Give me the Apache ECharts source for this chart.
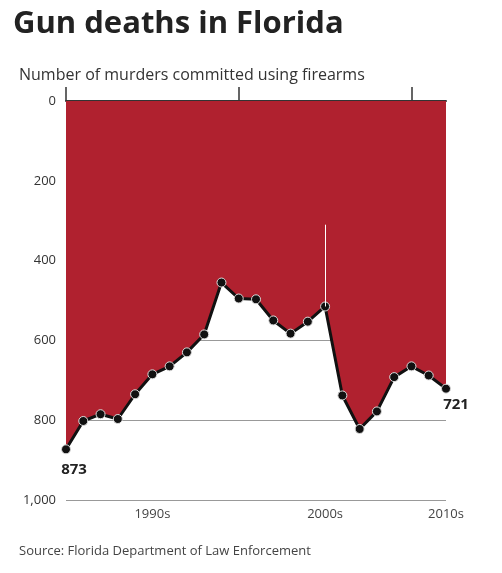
<!DOCTYPE html><html><head><meta charset="utf-8">
<script src="https://cdn.jsdelivr.net/npm/echarts@6/dist/echarts.min.js"></script>
<style>html,body{margin:0;padding:0;background:#fff}#c{width:502px;height:573px}</style></head><body><div id="c"></div>
<script>
const years=['1990','1991','1992','1993','1994','1995','1996','1997','1998','1999','2000','2001','2002','2003','2004','2005','2006','2007','2008','2009','2010','2011','2012'];
const murders=[873,802,785,797,735,685,665,630,585,455,495,497,550,583,553,515,738,822,778,692,665,688,721];
const yTicks=[0,200,400,600,800,1000];
const decadeLabels={'1995':'1990s','2005':'2000s','2012':'2010s'};
const decadeTicks=['1990','2000','2010'];
const chart=echarts.init(document.getElementById('c'));
const F='"Source Sans Pro","Open Sans","Noto Sans",sans-serif';
chart.setOption({
  animation:false,
  title:[{text:'Gun deaths in Florida',left:8,top:4,textStyle:{fontFamily:F,fontSize:31,fontWeight:'bold',color:'#222'}},
   {text:'Number of murders committed using firearms',left:14,top:62,textStyle:{fontFamily:F,fontSize:16,fontWeight:'normal',color:'#333'}},
   {text:'Source: Florida Department of Law Enforcement',left:14,top:540,textStyle:{fontFamily:F,fontSize:13,fontWeight:'normal',color:'#444'}}],
  grid:{left:66,right:56,top:101,bottom:73},
  xAxis:{type:'category',data:years,boundaryGap:false,
    axisLine:{lineStyle:{color:'#333',width:2}},
    axisTick:{show:true,length:-14,lineStyle:{color:'#333',width:1.5},interval:(i,v)=>decadeTicks.includes(v)},
    axisLabel:{interval:0,fontFamily:F,fontSize:13,color:'#444',margin:8,formatter:v=>decadeLabels[v]||'',align:'center'}},
  yAxis:{type:'value',inverse:true,min:0,max:1000,interval:200,
    axisLine:{show:false},axisTick:{show:false},
    axisLabel:{fontFamily:F,fontSize:13,color:'#333',margin:10,formatter:v=>v.toLocaleString('en-US')},
    splitLine:{lineStyle:{color:'#999',width:1}}},
  series:[{type:'line',data:murders,z:3,
    lineStyle:{color:'#111',width:3},
    areaStyle:{color:'#b0212f',opacity:1,origin:'start'},
    symbol:'circle',symbolSize:9,itemStyle:{color:'#111',borderColor:'#ddd',borderWidth:1},
    label:{show:true,fontFamily:F,fontSize:15,fontWeight:'bold',color:'#222',
      formatter:p=>(p.dataIndex===0||p.dataIndex===murders.length-1)?String(p.value):'',
      position:'bottom',distance:8,
      },
    labelLayout:p=>p.dataIndex===0?{dx:8}:(p.dataIndex===murders.length-1?{dx:10,dy:-4}:{}),
    markLine:{silent:true,symbol:'none',label:{show:false},lineStyle:{color:'#fff',type:'solid',width:1},
      data:[[{coord:['2005',515]},{coord:['2005',310]}]]}
  }],
  graphic:[{type:'text',left:300,top:200,style:{text:'2005',fontFamily:F,fontSize:15,fontWeight:'bold',fill:'#fff'}},
    {type:'text',left:300,top:218,style:{text:'Florida enacted\nits ‘Stand Your\nGround’ law',fontFamily:F,fontSize:15,lineHeight:20,fill:'#fff'}}]
});
</script></body></html>
